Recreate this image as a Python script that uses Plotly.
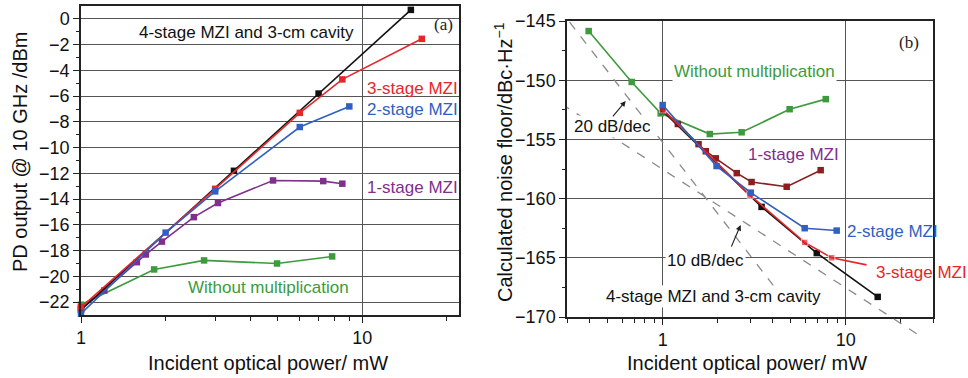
import plotly.graph_objects as go
import math

# ---------------- Panel (a): PD output @ 10 GHz ----------------
a_4stage_x = [1.0, 3.5, 7.0, 14.9]
a_4stage_y = [-22.6, -11.8, -5.8, 0.7]
a_3stage_x = [1.0, 3.0, 6.0, 8.5, 16.3]
a_3stage_y = [-22.4, -13.2, -7.3, -4.7, -1.55]
a_2stage_x = [1.0, 2.0, 3.0, 6.0, 9.0]
a_2stage_y = [-22.9, -16.6, -13.4, -8.4, -6.8]
a_1stage_x = [1.0, 1.21, 1.58, 1.70, 1.94, 2.52, 3.07, 4.82, 7.27, 8.5]
a_1stage_y = [-22.5, -21.1, -18.9, -18.3, -17.3, -15.4, -14.3, -12.55, -12.6, -12.8]
a_without_x = [1.0, 1.82, 2.74, 4.98, 7.82]
a_without_y = [-22.2, -19.46, -18.76, -19.0, -18.45]

a_yticks = [0, -2, -4, -6, -8, -10, -12, -14, -16, -18, -20, -22]
a_xticks = [1, 10]

# ---------------- Panel (b): calculated noise floor ----------------
b_without_x = [0.394, 0.677, 0.975, 1.81, 2.70, 4.94, 7.78]
b_without_y = [-145.85, -150.15, -152.8, -154.55, -154.4, -152.45, -151.6]
b_1stage_x = [1.0, 1.21, 1.57, 1.72, 1.95, 2.54, 3.06, 4.76, 7.3]
b_1stage_y = [-152.45, -153.7, -155.4, -156.0, -156.6, -157.85, -158.6, -159.0, -157.6]
b_4stage_x = [1.0, 3.47, 6.95, 14.96]
b_4stage_y = [-152.6, -160.7, -164.6, -168.3]
b_3stage_x = [1.0, 3.0, 5.97, 8.38, 13.0]
b_3stage_y = [-152.5, -159.7, -163.7, -165.0, -165.6]
b_2stage_x = [1.0, 1.97, 3.03, 5.97, 8.93]
b_2stage_y = [-152.1, -157.25, -159.5, -162.5, -162.7]

# guide lines (slopes)
b_20db_x = [0.31, 4.6]
b_20db_y = [-145.1, -168.5]
b_10db_x = [0.28, 26.7]
b_10db_y = [-152.0, -171.8]

b_yticks = [-145, -150, -155, -160, -165, -170]
b_xticks = [1, 10]

# ---------------- styling ----------------
W, H = 968, 378
GREEN = "#3d9a3d"
RED = "#e8262a"
BLUE = "#3060c0"
PURPLE = "#7f2f8c"
DARKRED = "#8b1f1f"
BLACK = "#111111"
FONT = "Liberation Sans, Arial, sans-serif"
GRID = "#555555"

fig = go.Figure()


def series(x, y, color, xa, ya, msize=6.5, sizes=None):
    fig.add_trace(go.Scatter(
        x=x, y=y, mode="lines+markers", xaxis=xa, yaxis=ya,
        line=dict(color=color, width=1.6),
        marker=dict(symbol="square", size=sizes if sizes else msize, color=color),
        showlegend=False, cliponaxis=False))


series(a_without_x, a_without_y, GREEN, "x", "y")
series(a_1stage_x, a_1stage_y, PURPLE, "x", "y")
series(a_4stage_x, a_4stage_y, BLACK, "x", "y")
series(a_3stage_x, a_3stage_y, RED, "x", "y")
series(a_2stage_x, a_2stage_y, BLUE, "x", "y")

for gx, gy in [(b_20db_x, b_20db_y), (b_10db_x, b_10db_y)]:
    fig.add_trace(go.Scatter(x=gx, y=gy, mode="lines", xaxis="x3", yaxis="y3",
                             line=dict(color="#8a8a8a", width=1.3, dash="dash"),
                             showlegend=False))

series(b_without_x, b_without_y, GREEN, "x2", "y2")
series(b_1stage_x, b_1stage_y, DARKRED, "x2", "y2")
series(b_4stage_x, b_4stage_y, BLACK, "x2", "y2")
series(b_3stage_x, b_3stage_y, RED, "x2", "y2", sizes=[6.5, 6.5, 6.5, 6.5, 0])
series(b_2stage_x, b_2stage_y, BLUE, "x2", "y2")

xa_dom = [81 / W, 459 / W]
ya_dom = [1 - 315 / H, 1 - 6 / H]
xb_dom = [567 / W, 933 / W]
yb_dom = [1 - 317 / H, 1 - 21 / H]

b_range = [-170, -145]
ext = 26 / H
units_per_paper = (b_range[1] - b_range[0]) / (yb_dom[1] - yb_dom[0])
yc_dom = [yb_dom[0] - ext, yb_dom[1]]
yc_range = [b_range[0] - ext * units_per_paper, b_range[1]]

axis_common = dict(
    showline=True, linecolor="#222222", linewidth=1.5, mirror=True,
    ticks="outside", ticklen=6, tickwidth=1.2, tickcolor="#222222",
    showgrid=True, gridcolor=GRID, gridwidth=1, automargin=False,
    zeroline=False, tickfont=dict(family=FONT, size=18, color="#111111"),
)

fig.update_layout(
    width=W, height=H,
    margin=dict(l=0, r=0, t=0, b=0, pad=0, autoexpand=False),
    paper_bgcolor="white", plot_bgcolor="rgba(0,0,0,0)",
    font=dict(family=FONT, color="#111111"),
    xaxis=dict(axis_common, type="log", domain=xa_dom,
               range=[0, math.log10(22.1)],
               tickmode="array", tickvals=a_xticks, ticktext=[str(v) for v in a_xticks],
               anchor="y",
               minor=dict(tickmode="array", tickvals=[2, 3, 4, 5, 6, 7, 8, 9, 20],
                          ticks="outside", ticklen=4, tickcolor="#222222", showgrid=False)),
    yaxis=dict(axis_common, domain=ya_dom, range=[-23, 1], anchor="x",
               tickmode="array", tickvals=a_yticks,
               minor=dict(tickmode="array", tickvals=[-1, -3, -5, -7, -9, -11, -13, -15, -17, -19, -21],
                          ticks="outside", ticklen=3.5, tickcolor="#222222", showgrid=False)),
    xaxis2=dict(axis_common, type="log", domain=xb_dom,
                range=[math.log10(0.3), math.log10(30)],
                tickmode="array", tickvals=b_xticks, ticktext=[str(v) for v in b_xticks],
                anchor="y2",
                minor=dict(tickmode="array",
                           tickvals=[0.3, 0.4, 0.5, 0.6, 0.7, 0.8, 0.9, 2, 3, 4, 5, 6, 7, 8, 9, 20, 30],
                           ticks="outside", ticklen=4, tickcolor="#222222", showgrid=False)),
    yaxis2=dict(axis_common, domain=yb_dom, range=b_range, anchor="x2",
                tickmode="array", tickvals=b_yticks,
                minor=dict(tickmode="array",
                           tickvals=[-147.5, -152.5, -157.5, -162.5, -167.5],
                           ticks="outside", ticklen=3.5, tickcolor="#222222", showgrid=False)),
    xaxis3=dict(type="log", domain=xb_dom, range=[math.log10(0.3), math.log10(30)],
                visible=False, anchor="y3", automargin=False),
    yaxis3=dict(domain=yc_dom, range=yc_range, visible=False, anchor="x3", automargin=False),
)

ann = []


def label(text, x, y, xref, yref, color, xanchor="left", size=17, bg=None, family=FONT):
    d = dict(text=text, x=x, y=y, xref=xref, yref=yref, showarrow=False,
             xanchor=xanchor, yanchor="middle",
             font=dict(family=family, size=size, color=color))
    if bg:
        d["bgcolor"] = bg
        d["borderpad"] = 1
    ann.append(d)


label("4-stage MZI and 3-cm cavity", 0.589, -1.09, "x", "y", BLACK, xanchor="center")
label("3-stage MZI", 1.011, -5.43, "x", "y", RED)
label("2-stage MZI", 1.011, -7.05, "x", "y", BLUE)
label("1-stage MZI", 1.011, -13.1, "x", "y", PURPLE)
label("Without multiplication", 0.374, -20.85, "x", "y", GREEN)
label("(a)", 1.288, -0.47, "x", "y", "#222222", xanchor="center", size=17,
      family="Liberation Serif, Times New Roman, serif")

label("Without multiplication", 0.049, -149.3, "x2", "y2", GREEN, bg="white")
label("1-stage MZI", 0.454, -156.3, "x2", "y2", PURPLE)
label("2-stage MZI", 0.995, -162.8, "x2", "y2", BLUE)
label("3-stage MZI", 1.153, -166.2, "x2", "y2", RED)
label("4-stage MZI and 3-cm cavity", -0.322, -168.3, "x2", "y2", BLACK, bg="white")
label("20 dB/dec", -0.497, -153.95, "x2", "y2", BLACK, bg="white")
label("10 dB/dec", 0.011, -165.2, "x2", "y2", BLACK, bg="white")
label("(b)", 1.344, -146.8, "x2", "y2", "#222222", xanchor="center", size=17,
      family="Liberation Serif, Times New Roman, serif")

for (tx, ty, sx, sy) in [(-0.202, -151.76, -0.279, -153.19), (0.426, -162.23, 0.372, -164.17)]:
    ann.append(dict(text="", x=tx, y=ty, xref="x2", yref="y2", ax=sx, ay=sy,
                    axref="x2", ayref="y2", showarrow=True, arrowhead=2,
                    arrowsize=1, arrowwidth=1.1, arrowcolor="#222222"))

TF = dict(family=FONT, size=20, color="#111111")
ann.append(dict(text="PD output @ 10 GHz /dBm", x=20 / W, y=1 - 152 / H, xref="paper", yref="paper",
                textangle=-90, showarrow=False, font=TF, xanchor="center", yanchor="middle"))
ann.append(dict(text="Calculated noise floor/dBc·Hz<sup>−1</sup>", x=503 / W, y=1 - 162 / H,
                xref="paper", yref="paper", textangle=-90, showarrow=False, font=TF,
                xanchor="center", yanchor="middle"))
ann.append(dict(text="Incident optical power/ mW", x=268 / W, y=1 - 363 / H, xref="paper", yref="paper",
                showarrow=False, font=TF, xanchor="center", yanchor="middle"))
ann.append(dict(text="Incident optical power/ mW", x=747 / W, y=1 - 363 / H, xref="paper", yref="paper",
                showarrow=False, font=TF, xanchor="center", yanchor="middle"))

fig.update_layout(annotations=ann)
fig.write_html("out.html")
